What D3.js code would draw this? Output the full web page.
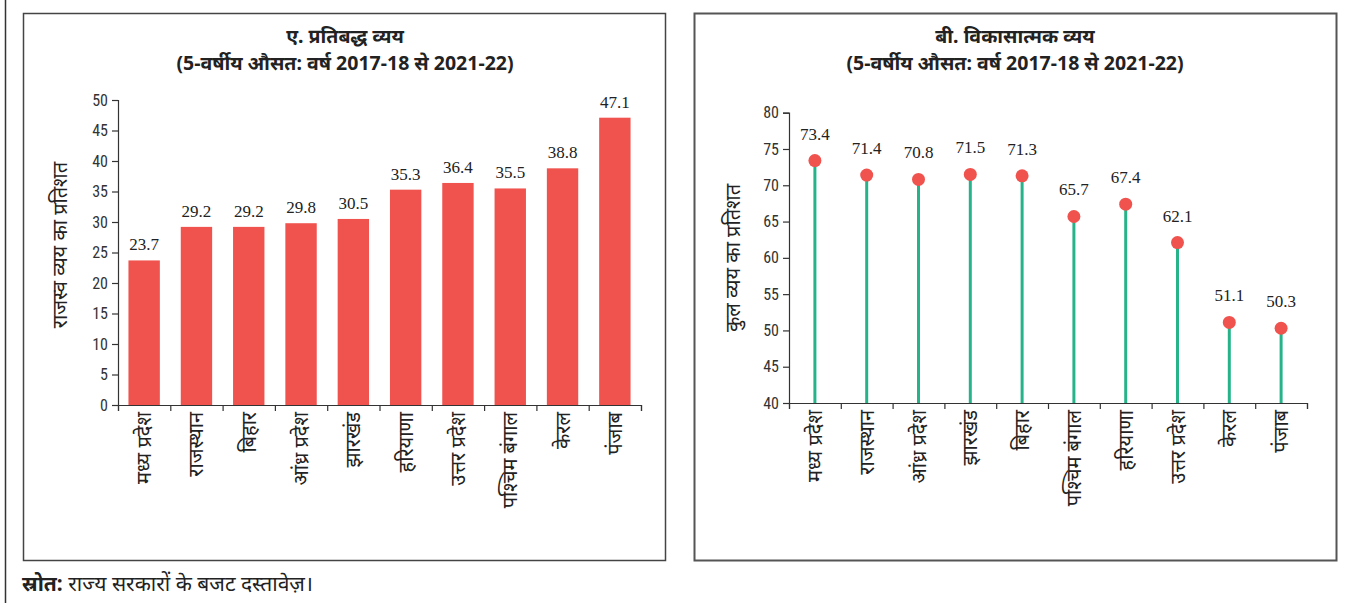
<!DOCTYPE html>
<html><head><meta charset="utf-8">
<script src="https://cdn.jsdelivr.net/npm/d3@7"></script>
<style>
body{margin:0;background:#fff;}
svg{display:block;}
</style></head>
<body><svg id="c" width="1353" height="603"></svg>
<script>
const statesA = ["मध्य प्रदेश","राजस्थान","बिहार","आंध्र प्रदेश","झारखंड","हरियाणा","उत्तर प्रदेश","पश्चिम बंगाल","केरल","पंजाब"];
const valuesA = [23.7,29.2,29.2,29.8,30.5,35.3,36.4,35.5,38.8,47.1];
const ticksA = [0,5,10,15,20,25,30,35,40,45,50];
const statesB = ["मध्य प्रदेश","राजस्थान","आंध्र प्रदेश","झारखंड","बिहार","पश्चिम बंगाल","हरियाणा","उत्तर प्रदेश","केरल","पंजाब"];
const valuesB = [73.4,71.4,70.8,71.5,71.3,65.7,67.4,62.1,51.1,50.3];
const ticksB = [40,45,50,55,60,65,70,75,80];
const titleA = ["ए. प्रतिबद्ध व्यय","(5-वर्षीय औसत: वर्ष 2017-18 से 2021-22)"];
const titleB = ["बी. विकासात्मक व्यय","(5-वर्षीय औसत: वर्ष 2017-18 से 2021-22)"];
const yTitleA = "राजस्व व्यय का प्रतिशत";
const yTitleB = "कुल व्यय का प्रतिशत";
const sourceLabel = "स्रोत:";
const sourceText = " राज्य सरकारों के बजट दस्तावेज़।";

const svg = d3.select("#c");
const red = "#f0524d", teal = "#27b38a", dark = "#333";
const sans = "'Noto Sans', 'DejaVu Sans', sans-serif";
const tickFont = "'Liberation Sans Narrow','Roboto Condensed','Roboto', sans-serif";

// outer line and panel boxes
svg.append("line").attr("x1",5.5).attr("x2",5.5).attr("y1",0).attr("y2",603).attr("stroke","#333").attr("stroke-width",1.5);
svg.append("rect").attr("x",23.5).attr("y",13.5).attr("width",642).attr("height",547).attr("fill","none").attr("stroke","#444").attr("stroke-width",1.5);
svg.append("rect").attr("x",694.5).attr("y",13.5).attr("width",642).attr("height",547).attr("fill","none").attr("stroke","#555").attr("stroke-width",2);

function titles(lines, cx){
  lines.forEach((t,i)=>svg.append("text").attr("x",cx).attr("y",43+i*27).attr("text-anchor","middle")
    .attr("font-family",sans).attr("font-weight","bold").attr("font-size",19.5).attr("fill","#222").text(t));
}
titles(titleA,345); titles(titleB,1015);

function styleAxis(g){
  g.selectAll("path,line").attr("stroke",dark).attr("stroke-width",1.2);
  g.selectAll("text").attr("fill","#333");
}

// Chart A
{
  const x = d3.scaleBand().domain(statesA).range([118,641]).paddingInner(0.4).paddingOuter(0.2);
  const y = d3.scaleLinear().domain([0,50]).range([405,100]);
  svg.append("g").selectAll("rect").data(valuesA).join("rect")
    .attr("x",(d,i)=>x(statesA[i])).attr("y",d=>y(d)).attr("width",x.bandwidth()).attr("height",d=>y(0)-y(d)).attr("fill",red);
  svg.append("g").selectAll("text").data(valuesA).join("text")
    .attr("x",(d,i)=>x(statesA[i])+x.bandwidth()/2).attr("y",d=>y(d)-10).attr("text-anchor","middle")
    .attr("font-family","'Liberation Serif', serif").attr("font-size",17).attr("fill","#222").text(d=>d.toFixed(1));
  const ya = svg.append("g").attr("transform","translate(118,0)").call(d3.axisLeft(y).tickValues(ticksA).tickSize(6).tickPadding(4));
  ya.selectAll("text").attr("font-family",tickFont).attr("font-size",16);
  styleAxis(ya);
  const xb = d3.scaleLinear().domain([0,10]).range([118,641]);
  const xa = svg.append("g").attr("transform","translate(0,405)").call(d3.axisBottom(xb).ticks(10).tickSize(6).tickFormat(""));
  styleAxis(xa);
  svg.append("g").selectAll("text").data(statesA).join("text")
    .attr("transform",d=>`translate(${x(d)+x.bandwidth()/2+7},412) rotate(-90)`).attr("text-anchor","end")
    .attr("font-family",sans).attr("font-size",20).attr("fill","#222").text(d=>d);
  svg.append("text").attr("transform","translate(67,245) rotate(-90)").attr("text-anchor","middle")
    .attr("font-family",sans).attr("font-size",20).attr("fill","#222").text(yTitleA);
}

// Chart B
{
  const x = d3.scaleBand().domain(statesB).range([789,1307]);
  const y = d3.scaleLinear().domain([40,80]).range([403,112.7]);
  const cx = d => x(d)+x.bandwidth()/2;
  svg.append("g").selectAll("line").data(valuesB).join("line")
    .attr("x1",(d,i)=>cx(statesB[i])).attr("x2",(d,i)=>cx(statesB[i])).attr("y1",y(40)).attr("y2",d=>y(d))
    .attr("stroke",teal).attr("stroke-width",3);
  svg.append("g").selectAll("circle").data(valuesB).join("circle")
    .attr("cx",(d,i)=>cx(statesB[i])).attr("cy",d=>y(d)).attr("r",6.5).attr("fill",red);
  svg.append("g").selectAll("text").data(valuesB).join("text")
    .attr("x",(d,i)=>cx(statesB[i])).attr("y",d=>y(d)-21).attr("text-anchor","middle")
    .attr("font-family","'Liberation Serif', serif").attr("font-size",17).attr("fill","#222").text(d=>d.toFixed(1));
  const ya = svg.append("g").attr("transform","translate(789,0)").call(d3.axisLeft(y).tickValues(ticksB).tickSize(6).tickPadding(4));
  ya.selectAll("text").attr("font-family",tickFont).attr("font-size",16);
  styleAxis(ya);
  const xb = d3.scaleLinear().domain([0,10]).range([789,1307]);
  const xa = svg.append("g").attr("transform","translate(0,403)").call(d3.axisBottom(xb).ticks(10).tickSize(6).tickFormat(""));
  styleAxis(xa);
  svg.append("g").selectAll("text").data(statesB).join("text")
    .attr("transform",d=>`translate(${cx(d)+7},410) rotate(-90)`).attr("text-anchor","end")
    .attr("font-family",sans).attr("font-size",20).attr("fill","#222").text(d=>d);
  svg.append("text").attr("transform","translate(740,258) rotate(-90)").attr("text-anchor","middle")
    .attr("font-family",sans).attr("font-size",20).attr("fill","#222").text(yTitleB);
}

// source
const st = svg.append("text").attr("x",22).attr("y",591).attr("font-family",sans).attr("font-size",21).attr("fill","#222");
st.append("tspan").attr("font-weight","bold").text(sourceLabel);
st.append("tspan").text(sourceText);
</script></body></html>
